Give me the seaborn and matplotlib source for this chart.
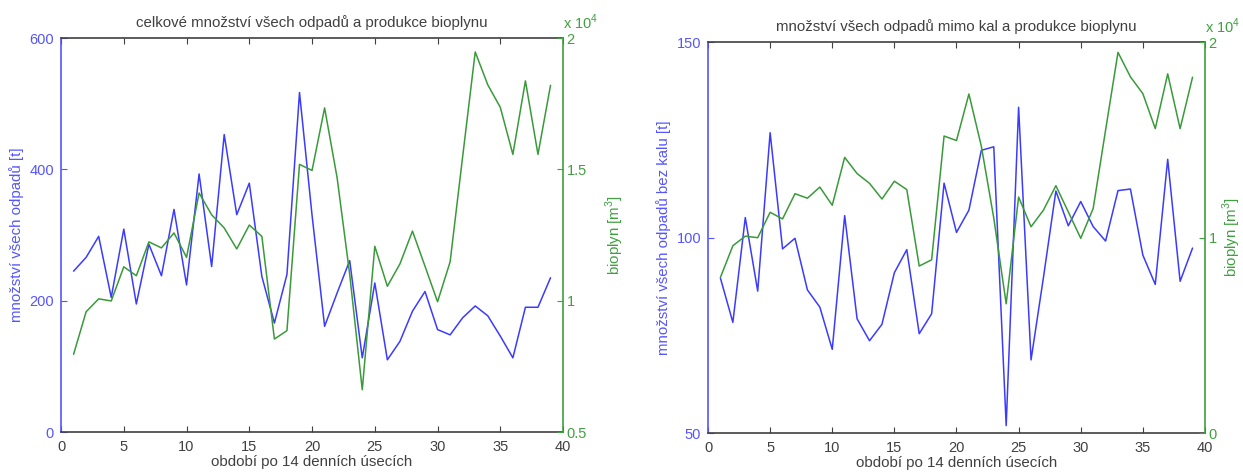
import matplotlib
matplotlib.use("Agg")
import matplotlib.pyplot as plt
from matplotlib.ticker import FuncFormatter
import seaborn as sns
import pandas as pd

# ---------------- data ----------------
obdobi = list(range(1, 40))

odpady_celkem = [245, 266, 298, 205, 309, 195, 286, 238, 339, 224,
                 393, 252, 453, 331, 379, 237, 166, 240, 517, 330,
                 161, 212, 261, 113, 227, 110, 138, 184, 214, 156,
                 148, 174, 192, 177, 146, 113, 190, 190, 235]

odpady_bez_kalu = [89.6, 78.3, 105.1, 86.3, 126.8, 97.1, 99.8, 86.6, 82.2, 71.4,
                   105.6, 79.2, 73.6, 77.8, 91.0, 96.9, 75.4, 80.5, 113.9, 101.3,
                   107.0, 122.3, 123.2, 51.9, 133.3, 68.7, 89.8, 111.9, 103.0, 109.2,
                   102.8, 99.1, 112.0, 112.4, 95.5, 88.0, 120.0, 88.8, 97.3]

bioplyn = [7960, 9580, 10070, 9990, 11290, 10950, 12240, 12010, 12580, 11650,
           14100, 13270, 12770, 11970, 12880, 12450, 8540, 8860, 15190, 14960,
           17340, 14670, 11000, 6610, 12070, 10550, 11400, 12650, 11310, 9960,
           11480, 15490, 19470, 18220, 17360, 15570, 18370, 15570, 18200]

tick_x = [0, 5, 10, 15, 20, 25, 30, 35, 40]
tick_left1 = [0, 200, 400, 600]
tick_right1 = [5000, 10000, 15000, 20000]
tick_left2 = [50, 100, 150]
tick_right2 = [0, 10000, 20000]

titles = ["celkové množství všech odpadů a produkce bioplynu",
          "množství všech odpadů mimo kal a produkce bioplynu"]
ylabels_left = ["množství všech odpadů [t]",
                "množství všech odpadů bez kalu [t]"]
ylabel_right = "bioplyn [m$^3$]"
xlabel = "období po 14 denních úsecích"

# ---------------- style ----------------
sns.set_theme(style="white")
plt.rcParams["font.family"] = ["Liberation Sans", "DejaVu Sans"]
plt.rcParams["mathtext.fontset"] = "custom"
plt.rcParams["mathtext.rm"] = "Liberation Sans"

BLUE = "#3b3bff"
GREEN = "#3a9a3a"
BLUE_T = "#5555ff"
GREEN_T = "#40a040"
GRAY = "#404040"
FS = 10.8
FT = 10.5

fig = plt.figure(figsize=(12.43, 4.72), dpi=100)

panels = [
    dict(rect=[0.0491, 0.0847, 0.4039, 0.8347], left=odpady_celkem,
         ylim=(0, 600), lt=tick_left1, rlim=(5000, 20000), rt=tick_right1,
         title=titles[0], yl=ylabels_left[0], rpad=12),
    dict(rect=[0.5696, 0.0826, 0.3998, 0.8284], left=odpady_bez_kalu,
         ylim=(50, 150), lt=tick_left2, rlim=(0, 20000), rt=tick_right2,
         title=titles[1], yl=ylabels_left[1], rpad=3),
]

for p in panels:
    ax = fig.add_axes(p["rect"])
    ax2 = ax.twinx()
    df = pd.DataFrame({"obdobi": obdobi, "odpady": p["left"], "bioplyn": bioplyn})
    sns.lineplot(data=df, x="obdobi", y="odpady", ax=ax, color=BLUE, lw=1.1)
    sns.lineplot(data=df, x="obdobi", y="bioplyn", ax=ax2, color=GREEN, lw=1.1)

    ax.set_xlim(0, 40)
    ax.set_xticks(tick_x)
    ax.set_ylim(*p["ylim"])
    ax.set_yticks(p["lt"])
    ax2.set_ylim(*p["rlim"])
    ax2.set_yticks(p["rt"])
    ax2.yaxis.set_major_formatter(FuncFormatter(lambda v, pos: "%g" % (v / 1e4)))

    ax.set_title(p["title"], fontsize=FS, color=GRAY, pad=8)
    ax.set_xlabel(xlabel, fontsize=FS, color=GRAY, labelpad=1)
    ax.set_ylabel(p["yl"], fontsize=FS, color=BLUE_T, labelpad=4)
    ax2.set_ylabel(ylabel_right, fontsize=FS, color=GREEN_T, labelpad=p["rpad"])

    ax.tick_params(axis="x", direction="in", top=True, bottom=True, length=4,
                   width=0.8, color=GRAY, labelcolor=GRAY, labelsize=FT, pad=5.5)
    ax.tick_params(axis="y", direction="in", left=True, right=False, length=4,
                   width=0.8, color=BLUE_T, labelcolor=BLUE_T, labelsize=FT, pad=5)
    ax2.tick_params(axis="y", direction="in", right=True, length=4,
                    width=0.8, color=GREEN_T, labelcolor=GREEN_T, labelsize=FT, pad=2.5)

    for s in ["top", "bottom"]:
        ax.spines[s].set_color(GRAY)
        ax.spines[s].set_linewidth(1.2)
    ax.spines["left"].set_color(BLUE_T)
    ax.spines["left"].set_linewidth(1.2)
    ax.spines["right"].set_visible(False)
    for s in ["top", "bottom", "left"]:
        ax2.spines[s].set_visible(False)
    ax2.spines["right"].set_color(GREEN_T)
    ax2.spines["right"].set_linewidth(1.2)
    ax.grid(False)
    ax2.grid(False)

    ax2.text(1.0, 1.016, "x 10$^4$", transform=ax2.transAxes, color=GREEN_T,
             fontsize=FT, ha="left", va="bottom")

fig.savefig("out.png", dpi=100, facecolor="white")
